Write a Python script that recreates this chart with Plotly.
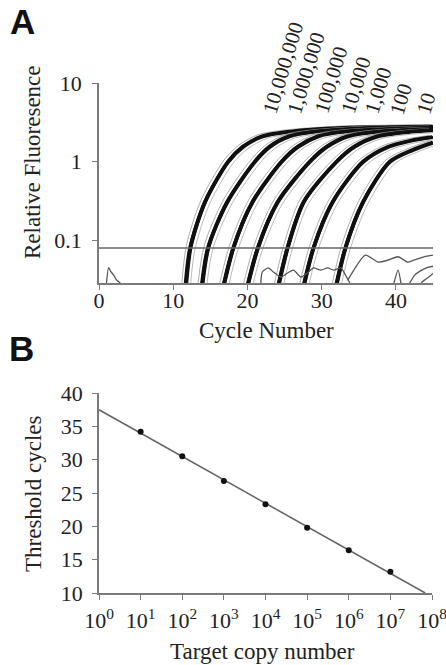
import plotly.graph_objects as go
import numpy as np

W, H = 446, 665

# ---------------- Panel A data ----------------
dilution_labels = ["10,000,000", "1,000,000", "100,000", "10,000", "1,000", "100", "10"]
label_px = [(283, 68), (306, 73), (331, 80), (356, 85), (378, 91), (401, 99), (426, 104)]

grp_cycles = [
    [11.5, 12.3, 14.3, 17.4, 19.4, 22.0, 25.5, 33.0, 45.0],
    [13.6, 14.7, 17.3, 21.0, 23.0, 25.6, 29.0, 37.0, 45.0],
    [16.2, 18.1, 20.7, 24.6, 26.8, 29.5, 33.0, 41.0, 45.0],
    [19.4, 21.4, 24.1, 28.4, 30.7, 33.5, 37.5, 45.0],
    [23.6, 25.4, 27.6, 32.0, 34.4, 37.5, 42.0, 45.0],
    [27.0, 28.9, 31.5, 35.6, 39.0, 42.0, 45.0],
    [31.4, 33.2, 35.6, 39.2, 42.2, 45.0],
]
grp_fluor = [
    [0.015, 0.08, 0.31, 1.0, 1.55, 2.1, 2.4, 2.7, 2.8],
    [0.015, 0.08, 0.31, 1.0, 1.55, 2.1, 2.4, 2.7, 2.8],
    [0.015, 0.08, 0.31, 1.0, 1.55, 2.1, 2.4, 2.65, 2.7],
    [0.015, 0.08, 0.31, 1.0, 1.55, 2.1, 2.4, 2.6],
    [0.015, 0.08, 0.31, 1.0, 1.55, 2.1, 2.4, 2.5],
    [0.015, 0.08, 0.31, 1.0, 1.55, 1.85, 2.05],
    [0.015, 0.08, 0.31, 1.0, 1.4, 1.75],
]
# replicate wells: cycle shift, plateau scale, stroke width, colour
rep_shift = [-0.55, -0.2, -0.1, 0.0, 0.1, 0.2, 0.6]
rep_scale = [1.05, 0.98, 1.03, 1.0, 0.97, 1.02, 0.94]
rep_width = [0.8, 1.6, 1.6, 1.8, 1.6, 1.6, 0.8]
rep_color = ["#9a9a9a", "#111", "#111", "#111", "#111", "#111", "#aaaaaa"]

threshold = 0.08

noise_cycles = [
    [1.0, 1.3, 1.6, 2.0, 2.3, 2.6, 3.0],
    [21.8, 22.0, 22.8, 23.5, 24.5, 25.4, 26.2, 27.2, 28.1, 28.9, 29.9, 30.8, 31.6, 32.6, 33.2, 33.8],
    [33.5, 35.9, 37.6, 38.9, 40.3, 41.6, 42.4, 43.8, 45.0],
    [41.8, 42.5, 43.3, 44.2, 45.0],
    [43.4, 44.2, 45.0],
    [39.7, 40.3, 40.7],
]
noise_fluor = [
    [0.028, 0.045, 0.040, 0.036, 0.032, 0.030, 0.028],
    [0.0288, 0.0397, 0.0447, 0.0397, 0.0343, 0.0385, 0.042, 0.0343, 0.0385, 0.0447, 0.042, 0.0447, 0.042, 0.0447, 0.0364, 0.0288],
    [0.031, 0.065, 0.053, 0.056, 0.062, 0.053, 0.056, 0.062, 0.065],
    [0.028, 0.036, 0.041, 0.045, 0.047],
    [0.029, 0.033, 0.038],
    [0.028, 0.042, 0.028],
]

# ---------------- Panel B data ----------------
copy_number = [1e1, 1e2, 1e3, 1e4, 1e5, 1e6, 1e7]
threshold_cycles = [34.2, 30.5, 26.8, 23.3, 19.8, 16.4, 13.2]
b_tickvals = [1, 10, 100, 1000, 10000, 100000, 1000000, 10000000, 100000000]
b_ticktext = ["10<sup>%d</sup>" % i for i in range(9)]

# ---------------- layout helpers ----------------
def px_x(p):
    return p / W

def px_y(p):
    return 1 - p / H

SERIF = "Liberation Serif"
TXT = "#222"
AX = "#7a7a7a"

fig = go.Figure()

# Panel A traces
for gc, gf in zip(grp_cycles, grp_fluor):
    for s, sc, lw, col in zip(rep_shift, rep_scale, rep_width, rep_color):
        fig.add_trace(go.Scatter(
            x=[c + s for c in gc], y=[f * sc for f in gf],
            mode="lines", line=dict(color=col, width=lw, shape="spline", smoothing=0.8),
            xaxis="x", yaxis="y", showlegend=False, hoverinfo="skip"))

for nc, nf in zip(noise_cycles, noise_fluor):
    fig.add_trace(go.Scatter(
        x=nc, y=nf, mode="lines",
        line=dict(color="#555", width=1.3, shape="spline", smoothing=0.6),
        xaxis="x", yaxis="y", showlegend=False, hoverinfo="skip"))

fig.add_trace(go.Scatter(
    x=[0, 45], y=[threshold, threshold], mode="lines",
    line=dict(color="#666", width=1.5), xaxis="x", yaxis="y",
    showlegend=False, hoverinfo="skip"))

# Panel B traces
logx = np.log10(copy_number)
slope, intercept = np.polyfit(logx, threshold_cycles, 1)
x_end = (10 - intercept) / slope
fig.add_trace(go.Scatter(
    x=[1, 10 ** x_end], y=[intercept, 10], mode="lines",
    line=dict(color="#666", width=1.6), xaxis="x2", yaxis="y2",
    showlegend=False, hoverinfo="skip"))
fig.add_trace(go.Scatter(
    x=copy_number, y=threshold_cycles, mode="markers",
    marker=dict(color="#111", size=6, symbol="circle"),
    xaxis="x2", yaxis="y2", showlegend=False, hoverinfo="skip"))

axis_common = dict(
    showgrid=False, zeroline=False, showline=True, linecolor=AX, linewidth=1.5,
    ticks="outside", ticklen=5, tickwidth=1.2, tickcolor=AX, automargin=False,
    ticklabeloverflow="allow",
    tickfont=dict(family=SERIF, size=22, color=TXT),
)

fig.update_layout(
    template="none",
    width=W, height=H, autosize=False,
    margin=dict(l=0, r=0, t=0, b=0, pad=0),
    paper_bgcolor="white", plot_bgcolor="white",
    xaxis=dict(domain=[px_x(99), px_x(433)], range=[0, 45], anchor="y",
               tickvals=[0, 10, 20, 30, 40], ticklabelstandoff=-8, **axis_common),
    yaxis=dict(domain=[px_y(283), px_y(83)], type="log", range=[1 - 2.541, 1],
               anchor="x", tickvals=[0.1, 1, 10], ticktext=["0.1", "1", "10"],
               ticklabelstandoff=6, **axis_common),
    xaxis2=dict(domain=[px_x(99), px_x(432)], type="log", range=[0, 8], anchor="y2",
                tickvals=b_tickvals, ticktext=b_ticktext, ticklabelstandoff=2, **axis_common),
    yaxis2=dict(domain=[px_y(593), px_y(393)], range=[10, 40], anchor="x2",
                tickvals=[10, 15, 20, 25, 30, 35, 40], ticklabelstandoff=5, **axis_common),
)

ann = []
for lab, (cx, cy) in zip(dilution_labels, label_px):
    ann.append(dict(text=lab, x=px_x(cx), y=px_y(cy), xref="paper", yref="paper",
                    xanchor="center", yanchor="middle", textangle=-73, showarrow=False,
                    font=dict(family=SERIF, size=21, color=TXT)))

titles = [
    ("Relative Fluoresence", 33, 162, -90),
    ("Cycle Number", 266, 330, 0),
    ("Threshold cycles", 33, 494, -90),
    ("Target copy number", 262, 651, 0),
]
for t, cx, cy, ang in titles:
    ann.append(dict(text=t, x=px_x(cx), y=px_y(cy), xref="paper", yref="paper",
                    xanchor="center", yanchor="middle", textangle=ang, showarrow=False,
                    font=dict(family=SERIF, size=23, color=TXT)))

for t, cx, cy in [("A", 22, 22), ("B", 21, 348)]:
    ann.append(dict(text="<b>%s</b>" % t, x=px_x(cx), y=px_y(cy), xref="paper", yref="paper",
                    xanchor="center", yanchor="middle", showarrow=False,
                    font=dict(family="Liberation Sans", size=35, color="#111")))

fig.update_layout(annotations=ann)
fig.write_html("out.html")
